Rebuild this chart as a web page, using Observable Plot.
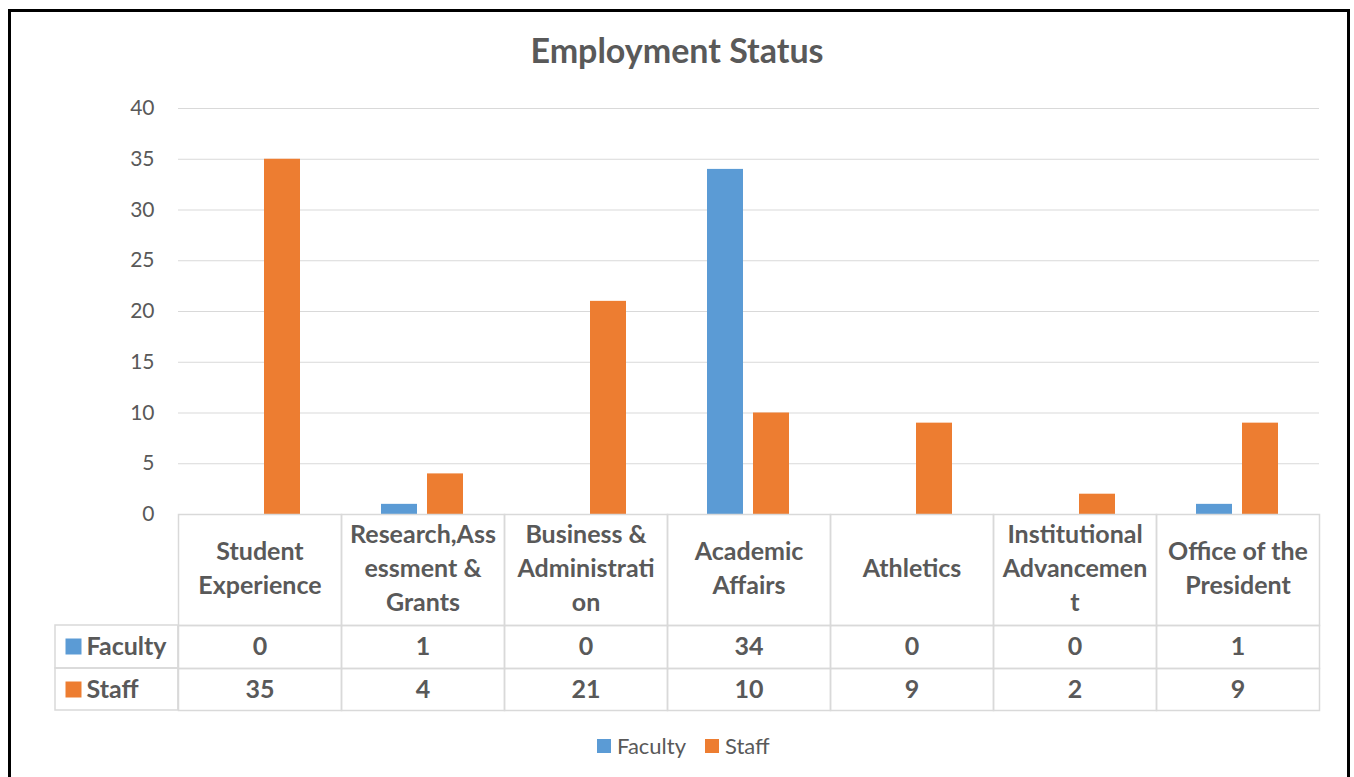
<!DOCTYPE html>
<html>
<head>
<meta charset="utf-8">
<script src="https://cdn.jsdelivr.net/npm/d3@7"></script>
<script src="https://cdn.jsdelivr.net/npm/@observablehq/plot@0.6"></script>
<style>
html,body{margin:0;padding:0;background:#fff;width:1354px;height:777px;overflow:hidden;font-family:Lato,sans-serif;}
#frame{position:absolute;left:8px;top:9px;width:1336px;height:800px;border:3px solid #000;z-index:5;pointer-events:none;}
#title{position:absolute;left:0;width:1354px;top:29px;text-align:center;font:700 34px/41px Lato,sans-serif;color:#595959;}
#chart{position:absolute;left:0;top:0;}
#legend{position:absolute;top:733px;left:597px;display:flex;align-items:center;font:400 22px/26px Lato,sans-serif;color:#595959;}
#legend .item{display:flex;align-items:center;margin-right:19px;}
#legend .sw{width:14px;height:14px;margin-right:6px;}
</style>
</head>
<body>
<div id="frame"></div>
<div id="chart"></div>
<div id="title">Employment Status</div>
<div id="legend"></div>
<script>
// ---- data ----
const categories = ["Student Experience","Research,Assessment & Grants","Business & Administration","Academic Affairs","Athletics","Institutional Advancement","Office of the President"];
const categoryLabels = ["Student\nExperience","Research,Ass\nessment &\nGrants","Business &\nAdministrati\non","Academic\nAffairs","Athletics","Institutional\nAdvancemen\nt","Office of the\nPresident"];
const seriesNames = ["Faculty","Staff"];
const facultyValues = [0,1,0,34,0,0,1];
const staffValues = [35,4,21,10,9,2,9];
const seriesColors = ["#5B9BD5","#ED7D31"];
const yTicks = [0,5,10,15,20,25,30,35,40];

// ---- layout ----
const W = 1354, H = 730, mL = 177, mR = 35, mT = 108, yBottom = 514;
const mB = H - yBottom;
const plotH = yBottom - mT;
const facetW = (W - mL - mR) / categories.length;
const headerB = 625, row1B = 668, tableB = 710, tableL = 54;
const headerCenter = 566;
const rowCenters = [646, 689];
const gray = "#d9d9d9", textColor = "#595959";
const cellFont = 25;

const valuesBySeries = [facultyValues, staffValues];
const rows = categories.flatMap((c, i) => seriesNames.map((s, j) => ({category: c, series: s, value: valuesBySeries[j][i]})));
const headerRows = categories.map((c, i) => ({category: c, label: categoryLabels[i]}));

const cellText = {fontSize: cellFont, fontWeight: "bold", fill: textColor, lineAnchor: "middle"};

const marks = [
  Plot.gridY(yTicks, {stroke: gray, strokeOpacity: 1}),
  Plot.axisY({ticks: yTicks, tickSize: 0, tickPadding: 24, fontSize: 21, fill: textColor, label: null}),
  Plot.barY(rows, {fx: "category", x: "series", y: "value", fill: "series"}),
  // table cells per category column
  Plot.frame({stroke: gray, strokeWidth: 1.5, insetTop: plotH, insetBottom: -(headerB - yBottom)}),
  Plot.frame({stroke: gray, strokeWidth: 1.5, insetTop: headerB - mT, insetBottom: -(row1B - yBottom)}),
  Plot.frame({stroke: gray, strokeWidth: 1.5, insetTop: row1B - mT, insetBottom: -(tableB - yBottom)}),
  // header labels
  Plot.text(headerRows, {fx: "category", text: "label", frameAnchor: "bottom", dy: headerCenter - yBottom, lineHeight: 34 / cellFont, ...cellText})
];

seriesNames.forEach((s, j) => {
  const lead = [{category: categories[0], series: s}];
  // left label column cells
  marks.push(Plot.rect(lead, {fx: "category", insetLeft: -(mL - tableL), insetRight: facetW,
    insetTop: (j === 0 ? headerB : row1B) - mT, insetBottom: -((j === 0 ? row1B : tableB) - yBottom),
    stroke: gray, strokeWidth: 1.5, fill: "none"}));
  marks.push(Plot.dot(lead, {fx: "category", frameAnchor: "bottom-left", dx: 72 - mL, dy: rowCenters[j] - yBottom,
    symbol: "square", r: 16 / Math.sqrt(Math.PI), fill: "series", stroke: "none"}));
  marks.push(Plot.text(lead, {fx: "category", text: "series", frameAnchor: "bottom-left", textAnchor: "start",
    dx: 85 - mL, dy: rowCenters[j] - yBottom, ...cellText}));
  // values
  marks.push(Plot.text(rows.filter(r => r.series === s), {fx: "category", text: "value", frameAnchor: "bottom",
    dy: rowCenters[j] - yBottom, ...cellText}));
});

const chart = Plot.plot({
  width: W, height: H,
  marginLeft: mL, marginRight: mR, marginTop: mT, marginBottom: mB,
  style: {fontFamily: "Lato, sans-serif", fontSize: "21px", color: textColor, background: "transparent", overflow: "visible"},
  fx: {domain: categories, padding: 0, axis: null},
  x: {domain: seriesNames, paddingInner: 0.217, paddingOuter: 0.88, axis: null},
  y: {domain: [0, 40], axis: null},
  color: {domain: seriesNames, range: seriesColors},
  marks
});
document.getElementById("chart").append(chart);

// legend
const legend = document.getElementById("legend");
seriesNames.forEach((s, j) => {
  const item = document.createElement("div");
  item.className = "item";
  const sw = document.createElement("span");
  sw.className = "sw";
  sw.style.background = seriesColors[j];
  const t = document.createElement("span");
  t.textContent = s;
  item.append(sw, t);
  legend.append(item);
});
</script>
</body>
</html>
